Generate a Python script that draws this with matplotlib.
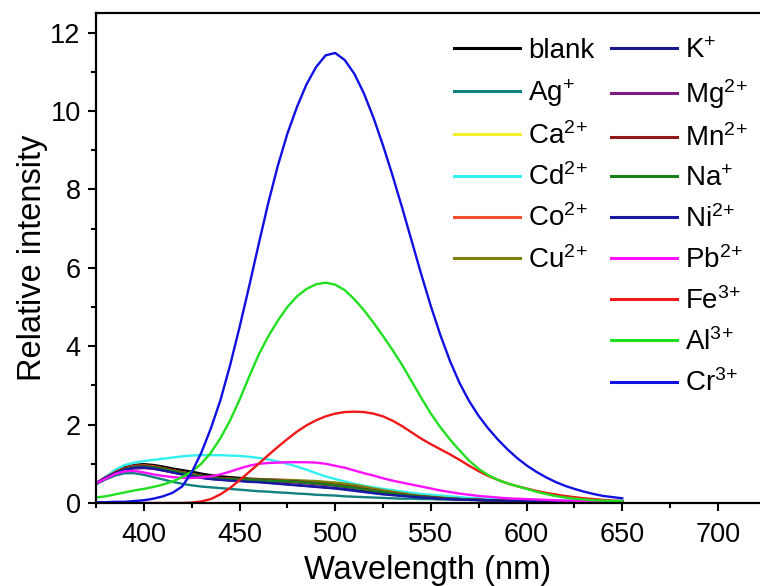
import matplotlib
matplotlib.use("Agg")
import matplotlib.pyplot as plt
from matplotlib.ticker import MultipleLocator

plt.rcParams['font.family'] = ['Liberation Sans', 'DejaVu Sans']
plt.rcParams['mathtext.fontset'] = 'custom'
plt.rcParams['mathtext.rm'] = 'Liberation Sans'
plt.rcParams['mathtext.it'] = 'Liberation Sans:italic'
plt.rcParams['mathtext.bf'] = 'Liberation Sans:bold'

# ---------------- data ----------------
wavelength = list(range(375, 651, 5))

blank = [0.50, 0.66, 0.80, 0.91, 0.97, 0.99, 0.97, 0.93, 0.88, 0.84,
         0.80, 0.75, 0.71, 0.68, 0.66, 0.64, 0.62, 0.61, 0.60, 0.59,
         0.58, 0.56, 0.54, 0.52, 0.50, 0.47, 0.44, 0.41, 0.37, 0.33,
         0.30, 0.26, 0.23, 0.20, 0.18, 0.15, 0.13, 0.12, 0.10, 0.09,
         0.08, 0.07, 0.07, 0.06, 0.06, 0.05, 0.05, 0.05, 0.05, 0.04,
         0.04, 0.04, 0.04, 0.04, 0.04, 0.04]
ag = [0.48, 0.60, 0.70, 0.76, 0.76, 0.72, 0.66, 0.60, 0.54, 0.49,
      0.45, 0.42, 0.40, 0.38, 0.36, 0.34, 0.32, 0.30, 0.29, 0.27,
      0.26, 0.24, 0.23, 0.21, 0.20, 0.19, 0.17, 0.16, 0.15, 0.14,
      0.13, 0.12, 0.11, 0.11, 0.10, 0.10, 0.09, 0.09, 0.08, 0.08,
      0.08, 0.07, 0.07, 0.07, 0.06, 0.06, 0.06, 0.06, 0.05, 0.05,
      0.05, 0.05, 0.05, 0.05, 0.05, 0.05]
ca = [0.49, 0.63, 0.76, 0.85, 0.90, 0.91, 0.88, 0.84, 0.79, 0.74,
      0.70, 0.66, 0.63, 0.61, 0.60, 0.59, 0.59, 0.58, 0.58, 0.57,
      0.57, 0.56, 0.55, 0.54, 0.53, 0.52, 0.50, 0.47, 0.43, 0.39,
      0.34, 0.30, 0.26, 0.22, 0.19, 0.16, 0.14, 0.12, 0.11, 0.10,
      0.09, 0.08, 0.07, 0.07, 0.06, 0.06, 0.05, 0.05, 0.05, 0.05,
      0.05, 0.04, 0.04, 0.04, 0.04, 0.04]
cd = [0.46, 0.66, 0.85, 0.97, 1.03, 1.07, 1.10, 1.13, 1.16, 1.19,
      1.21, 1.22, 1.22, 1.22, 1.21, 1.20, 1.18, 1.15, 1.11, 1.06,
      1.00, 0.93, 0.85, 0.76, 0.68, 0.61, 0.55, 0.49, 0.44, 0.40,
      0.36, 0.33, 0.29, 0.26, 0.23, 0.21, 0.19, 0.17, 0.15, 0.13,
      0.12, 0.11, 0.10, 0.09, 0.08, 0.08, 0.07, 0.07, 0.06, 0.06,
      0.06, 0.05, 0.05, 0.05, 0.05, 0.05]
co = [0.50, 0.65, 0.79, 0.89, 0.95, 0.96, 0.94, 0.89, 0.84, 0.79,
      0.74, 0.69, 0.65, 0.63, 0.61, 0.60, 0.59, 0.58, 0.57, 0.56,
      0.55, 0.54, 0.52, 0.50, 0.48, 0.46, 0.43, 0.40, 0.37, 0.33,
      0.29, 0.26, 0.22, 0.19, 0.17, 0.15, 0.13, 0.11, 0.10, 0.09,
      0.08, 0.07, 0.07, 0.06, 0.06, 0.05, 0.05, 0.05, 0.05, 0.04,
      0.04, 0.04, 0.04, 0.04, 0.04, 0.04]
cu = [0.49, 0.63, 0.76, 0.86, 0.91, 0.93, 0.91, 0.87, 0.82, 0.77,
      0.72, 0.68, 0.65, 0.63, 0.62, 0.61, 0.61, 0.60, 0.60, 0.59,
      0.59, 0.58, 0.57, 0.56, 0.54, 0.52, 0.49, 0.46, 0.42, 0.37,
      0.33, 0.29, 0.25, 0.21, 0.18, 0.16, 0.14, 0.12, 0.10, 0.09,
      0.08, 0.07, 0.07, 0.06, 0.06, 0.05, 0.05, 0.05, 0.05, 0.04,
      0.04, 0.04, 0.04, 0.04, 0.04, 0.04]
k = [0.50, 0.64, 0.77, 0.86, 0.91, 0.92, 0.89, 0.84, 0.79, 0.74,
     0.69, 0.65, 0.62, 0.60, 0.58, 0.57, 0.55, 0.54, 0.52, 0.50,
     0.48, 0.46, 0.44, 0.42, 0.40, 0.38, 0.36, 0.33, 0.30, 0.27,
     0.24, 0.21, 0.19, 0.17, 0.15, 0.13, 0.12, 0.10, 0.09, 0.08,
     0.08, 0.07, 0.06, 0.06, 0.05, 0.05, 0.05, 0.05, 0.04, 0.04,
     0.04, 0.04, 0.04, 0.04, 0.04, 0.04]
mg = [0.49, 0.62, 0.74, 0.83, 0.88, 0.89, 0.87, 0.83, 0.78, 0.73,
      0.69, 0.65, 0.62, 0.60, 0.59, 0.58, 0.57, 0.56, 0.55, 0.54,
      0.53, 0.52, 0.50, 0.48, 0.46, 0.44, 0.41, 0.38, 0.35, 0.31,
      0.28, 0.24, 0.21, 0.18, 0.16, 0.14, 0.12, 0.11, 0.10, 0.09,
      0.08, 0.07, 0.06, 0.06, 0.05, 0.05, 0.05, 0.05, 0.04, 0.04,
      0.04, 0.04, 0.04, 0.04, 0.04, 0.04]
mn = [0.50, 0.65, 0.78, 0.88, 0.93, 0.94, 0.92, 0.88, 0.83, 0.78,
      0.73, 0.69, 0.66, 0.64, 0.62, 0.61, 0.60, 0.59, 0.58, 0.57,
      0.56, 0.55, 0.53, 0.51, 0.49, 0.46, 0.43, 0.40, 0.36, 0.32,
      0.28, 0.25, 0.22, 0.19, 0.17, 0.15, 0.13, 0.11, 0.10, 0.09,
      0.08, 0.07, 0.07, 0.06, 0.06, 0.05, 0.05, 0.05, 0.05, 0.04,
      0.04, 0.04, 0.04, 0.04, 0.04, 0.04]
na = [0.49, 0.63, 0.76, 0.86, 0.92, 0.93, 0.91, 0.87, 0.82, 0.77,
      0.72, 0.68, 0.65, 0.62, 0.61, 0.60, 0.59, 0.58, 0.57, 0.56,
      0.55, 0.54, 0.52, 0.50, 0.48, 0.45, 0.42, 0.39, 0.35, 0.31,
      0.28, 0.24, 0.21, 0.18, 0.16, 0.14, 0.12, 0.11, 0.10, 0.09,
      0.08, 0.07, 0.06, 0.06, 0.05, 0.05, 0.05, 0.05, 0.04, 0.04,
      0.04, 0.04, 0.04, 0.04, 0.04, 0.04]
ni = [0.50, 0.64, 0.76, 0.85, 0.90, 0.91, 0.88, 0.83, 0.78, 0.73,
      0.68, 0.64, 0.61, 0.59, 0.57, 0.56, 0.54, 0.53, 0.51, 0.49,
      0.47, 0.45, 0.43, 0.41, 0.39, 0.37, 0.34, 0.31, 0.28, 0.25,
      0.22, 0.20, 0.18, 0.16, 0.14, 0.13, 0.11, 0.10, 0.09, 0.08,
      0.07, 0.07, 0.06, 0.06, 0.05, 0.05, 0.05, 0.04, 0.04, 0.04,
      0.04, 0.04, 0.04, 0.04, 0.04, 0.04]
pb = [0.50, 0.62, 0.74, 0.81, 0.82, 0.78, 0.73, 0.69, 0.66, 0.64,
      0.64, 0.65, 0.68, 0.73, 0.80, 0.88, 0.95, 1.00, 1.02, 1.03,
      1.04, 1.04, 1.04, 1.03, 1.00, 0.95, 0.90, 0.83, 0.76, 0.70,
      0.63, 0.57, 0.52, 0.47, 0.42, 0.37, 0.32, 0.28, 0.24, 0.21,
      0.18, 0.16, 0.14, 0.12, 0.11, 0.10, 0.09, 0.08, 0.07, 0.06,
      0.06, 0.05, 0.05, 0.04, 0.04, 0.04]
fe = [0.00, 0.00, 0.00, 0.00, 0.00, 0.00, 0.00, 0.00, 0.00, 0.00,
      0.01, 0.04, 0.10, 0.22, 0.38, 0.58, 0.79, 1.00, 1.22, 1.43,
      1.63, 1.82, 1.98, 2.11, 2.21, 2.28, 2.32, 2.33, 2.32, 2.28,
      2.21, 2.10, 1.96, 1.80, 1.64, 1.50, 1.37, 1.24, 1.10, 0.95,
      0.81, 0.69, 0.59, 0.50, 0.43, 0.37, 0.31, 0.26, 0.22, 0.18,
      0.15, 0.12, 0.10, 0.08, 0.06, 0.05]
al = [0.14, 0.17, 0.22, 0.27, 0.32, 0.36, 0.41, 0.47, 0.55, 0.66,
      0.80, 1.00, 1.28, 1.65, 2.10, 2.63, 3.22, 3.78, 4.25, 4.65,
      5.00, 5.27, 5.46, 5.58, 5.62, 5.57, 5.43, 5.20, 4.92, 4.60,
      4.26, 3.90, 3.52, 3.10, 2.68, 2.28, 1.93, 1.62, 1.34, 1.08,
      0.87, 0.71, 0.59, 0.50, 0.43, 0.36, 0.29, 0.23, 0.18, 0.14,
      0.11, 0.09, 0.07, 0.06, 0.05, 0.05]
cr = [0.02, 0.02, 0.03, 0.03, 0.05, 0.07, 0.11, 0.17, 0.26, 0.42,
      0.78, 1.28, 1.90, 2.62, 3.50, 4.48, 5.52, 6.60, 7.65, 8.60,
      9.42, 10.10, 10.68, 11.12, 11.42, 11.48, 11.30, 10.95, 10.45, 9.83,
      9.12, 8.35, 7.53, 6.68, 5.83, 5.02, 4.28, 3.62, 3.06, 2.60,
      2.22, 1.90, 1.62, 1.37, 1.15, 0.96, 0.80, 0.66, 0.54, 0.44,
      0.36, 0.29, 0.23, 0.18, 0.15, 0.12]

labels = ['blank', 'Ag$^{\\mathregular{+}}$', 'Ca$^{\\mathregular{2\\!+}}$',
          'Cd$^{\\mathregular{2\\!+}}$', 'Co$^{\\mathregular{2\\!+}}$',
          'Cu$^{\\mathregular{2\\!+}}$', 'K$^{\\mathregular{+}}$',
          'Mg$^{\\mathregular{2\\!+}}$', 'Mn$^{\\mathregular{2\\!+}}$',
          'Na$^{\\mathregular{+}}$', 'Ni$^{\\mathregular{2\\!+}}$',
          'Pb$^{\\mathregular{2\\!+}}$', 'Fe$^{\\mathregular{3\\!+}}$',
          'Al$^{\\mathregular{3\\!+}}$', 'Cr$^{\\mathregular{3\\!+}}$']
series = [blank, ag, ca, cd, co, cu, k, mg, mn, na, ni, pb, fe, al, cr]
colors = ['#000000', '#108080', '#f0f030', '#30f0f0', '#f05030', '#808010',
          '#181890', '#801880', '#901818', '#188018', '#1818a0', '#ff10ff',
          '#f01818', '#20e020', '#1010e0']

# ---------------- figure ----------------
W, H = 760, 586
fig = plt.figure(figsize=(W / 100, H / 100), dpi=100)
ax = fig.add_axes([96 / W, 1 - 503 / H, (W - 96) / W, 490 / H])

handles = []
for y, c, lab in zip(series, colors, labels):
    h, = ax.plot(wavelength, y, color=c, lw=1.7, label=lab)
    handles.append(h)

ax.set_xlim(375, 722)
ax.set_ylim(0, 12.5)
ax.xaxis.set_major_locator(MultipleLocator(50))
ax.xaxis.set_minor_locator(MultipleLocator(25))
ax.yaxis.set_major_locator(MultipleLocator(2))
ax.yaxis.set_minor_locator(MultipleLocator(1))
ax.set_xticks([400, 450, 500, 550, 600, 650, 700])
ax.tick_params(which='both', direction='out', width=1.5, labelsize=19.5,
               top=False, right=False)
ax.tick_params(which='major', length=6)
ax.tick_params(which='minor', length=3.5)
ax.tick_params(axis='x', which='major', pad=8)
ax.tick_params(axis='y', which='major', pad=5)
for s in ['left', 'bottom', 'top']:
    ax.spines[s].set_linewidth(1.6)
ax.spines['right'].set_visible(False)

ax.set_xlabel('Wavelength (nm)', fontsize=23.5, labelpad=5)
ax.set_ylabel('Relative intensity', fontsize=23.5, labelpad=2)

leg_kw = dict(loc='upper left', frameon=False, fontsize=20, handlelength=2.37,
              handletextpad=0.29, labelspacing=0.48, borderpad=0,
              borderaxespad=0, bbox_transform=fig.transFigure)
leg1 = ax.legend(handles[:6], labels[:6], bbox_to_anchor=(454 / W, 1 - 38 / H), **leg_kw)
ax.add_artist(leg1)
leg2 = ax.legend(handles[6:], labels[6:], bbox_to_anchor=(611 / W, 1 - 38 / H), **leg_kw)
for lg in (leg1, leg2):
    for ln in lg.get_lines():
        ln.set_linewidth(2.2)

fig.savefig('out.png', dpi=100)
